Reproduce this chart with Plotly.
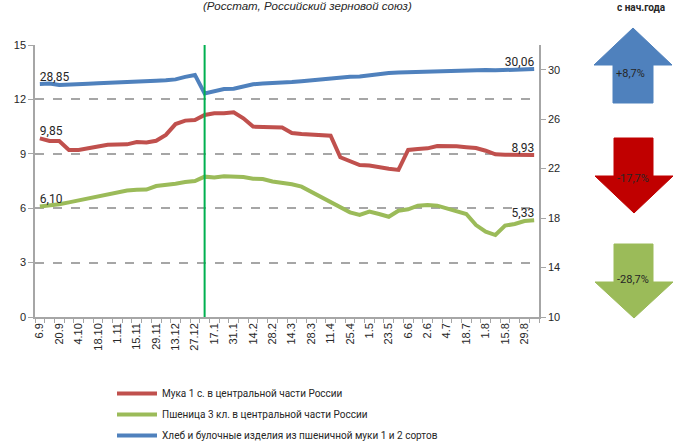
import plotly.graph_objects as go

# ---------------- data ----------------
dates = ["6.9", "13.9", "20.9", "27.9", "4.10", "11.10", "18.10", "25.10", "1.11", "8.11",
         "15.11", "22.11", "29.11", "6.12", "13.12", "20.12", "27.12", "10.1", "17.1", "24.1",
         "31.1", "7.2", "14.2", "21.2", "28.2", "7.3", "14.3", "21.3", "28.3", "4.4",
         "11.4", "18.4", "25.4", "28.4", "1.5", "16.5", "23.5", "30.5", "6.6", "13.6",
         "2.6", "27.6", "4.7", "11.7", "18.7", "25.7", "1.8", "8.8", "15.8", "22.8",
         "29.8", "5.9"]

flour = [9.85, 9.71, 9.71, 9.21, 9.21, 9.28, 9.40, 9.50, 9.52, 9.52,
         9.65, 9.62, 9.72, 10.04, 10.64, 10.83, 10.86, 11.14, 11.23, 11.23,
         11.29, 10.96, 10.50, 10.46, 10.46, 10.45, 10.15, 10.09, 10.07, 10.05,
         10.00, 8.81, 8.60, 8.38, 8.35, 8.29, 8.18, 8.11, 9.21, 9.26,
         9.30, 9.43, 9.43, 9.41, 9.36, 9.32, 9.17, 8.97, 8.95, 8.95,
         8.90, 8.93]

wheat = [6.10, 6.14, 6.22, 6.32, 6.43, 6.54, 6.67, 6.78, 6.90, 6.98,
         7.02, 7.03, 7.22, 7.26, 7.35, 7.44, 7.50, 7.74, 7.70, 7.76,
         7.75, 7.72, 7.63, 7.61, 7.47, 7.40, 7.32, 7.19, 6.91, 6.64,
         6.36, 6.05, 5.77, 5.63, 5.81, 5.68, 5.53, 5.86, 5.94, 6.14,
         6.18, 6.14, 5.99, 5.86, 5.68, 5.07, 4.71, 4.52, 5.04, 5.13,
         5.29, 5.33]

bread = [28.85, 28.88, 28.76, 28.82, 28.85, 28.87, 28.90, 28.92, 28.95, 29.00,
         29.03, 29.06, 29.10, 29.15, 29.22, 29.42, 29.58, 28.09, 28.30, 28.44,
         28.47, 28.65, 28.82, 28.88, 28.90, 28.95, 29.00, 29.06, 29.15, 29.22,
         29.33, 29.41, 29.44, 29.46, 29.57, 29.62, 29.73, 29.78, 29.81, 29.84,
         29.87, 29.89, 29.92, 29.92, 29.95, 29.97, 29.97, 29.95, 29.97, 30.00,
         30.03, 30.06]

names = ["Мука 1 с. в центральной части России",
         "Пшеница 3 кл. в центральной части России",
         "Хлеб и булочные изделия из пшеничной муки 1 и 2 сортов"]

changes = ["+8,7%", "-17,7%", "-28,7%"]
year_break = "10.1"

# ---------------- styling ----------------
RED, GREEN, BLUE = "#c0504d", "#9bbb59", "#4f81bd"
GRAY = "#a6a6a6"
NARROW = "Roboto, Liberation Sans"
ARIAL = "Liberation Sans, Arial"

W, H = 676, 446
L, R, T, B = 35, 137, 45, 129
PW, PH = W - L - R, H - T - B

def px(x):
    return (x - L) / PW

def py(y):
    return (H - B - y) / PH

xs = list(range(len(dates)))

def end_text(vals):
    t = [""] * len(vals)
    t[0] = f"{vals[0]:.2f}".replace(".", ",")
    t[-1] = f"{vals[-1]:.2f}".replace(".", ",")
    return t

def end_pos(n):
    p = ["top right"] * n
    p[-1] = "top left"
    return p

fig = go.Figure()
for k, (vals, col, name, ax) in enumerate([(flour, RED, names[0], "y"),
                                           (wheat, GREEN, names[1], "y"),
                                           (bread, BLUE, names[2], "y2")]):
    fig.add_trace(go.Scatter(
        x=xs, y=vals, name=name, yaxis=ax, mode="lines+text",
        legendgroup=f"g{k}",
        line=dict(color=col, width=4),
        text=end_text(vals), textposition=end_pos(len(vals)),
        textfont=dict(family=NARROW, size=12, color="#262626"),
        hoverinfo="skip"))

fig.update_layout(
    width=W, height=H,
    margin=dict(l=L, r=R, t=T, b=B, autoexpand=False),
    paper_bgcolor="white", plot_bgcolor="white",
    showlegend=True,
    legend=dict(x=px(112), y=py(379), xanchor="left", yanchor="top",
                orientation="v", font=dict(family=NARROW, size=10, color="#262626"),
                bgcolor="rgba(0,0,0,0)", itemwidth=40, tracegroupgap=2),
    xaxis=dict(range=[-0.5, len(dates) - 0.5], tickvals=xs[::2], ticktext=dates[::2],
               tickangle=-90, ticks="", showgrid=False, zeroline=False, automargin=False,
               showline=True, linecolor=GRAY, linewidth=1.5,
               tickfont=dict(family=ARIAL, size=11, color="#262626"),
               minor=dict(tickvals=[i - 0.5 for i in range(len(dates) + 1)],
                          ticks="outside", ticklen=4, tickcolor=GRAY, tickwidth=1,
                          showgrid=False)),
    yaxis=dict(range=[0, 15], dtick=3, tick0=0, showgrid=True, gridcolor=GRAY,
               griddash="dash", gridwidth=1.5, zeroline=False, automargin=False,
               showline=True, linecolor=GRAY, linewidth=1.5,
               ticks="outside", ticklen=5, tickcolor=GRAY,
               tickfont=dict(family=ARIAL, size=11, color="#262626")),
    yaxis2=dict(range=[10, 32], tickvals=[10, 14, 18, 22, 26, 30], overlaying="y",
                side="right", showgrid=False, zeroline=False, automargin=False,
                showline=True, linecolor=GRAY, linewidth=1.5,
                ticks="outside", ticklen=5, tickcolor=GRAY,
                tickfont=dict(family=ARIAL, size=11, color="#262626")),
)

# year-break marker
fig.add_shape(type="line", xref="x", yref="paper",
              x0=dates.index(year_break), x1=dates.index(year_break), y0=0, y1=1,
              line=dict(color="#00b050", width=2))

# title fragment and side caption
fig.add_annotation(text="<i>(Росстат, Российский зерновой союз)</i>", xref="paper", yref="paper",
                   x=px(307), y=py(-2), xanchor="center", yanchor="top", showarrow=False,
                   font=dict(family=ARIAL, size=11.5, color="#262626"))
fig.add_annotation(text="<b>с нач.года</b>", xref="paper", yref="paper",
                   x=px(641), y=py(0), xanchor="center", yanchor="top", showarrow=False,
                   font=dict(family=NARROW, size=10, color="#262626"))

# arrows
def path(points):
    return "M " + " L ".join(f"{px(a)},{py(b)}" for a, b in points) + " Z"

up = [(633, 28), (672, 65), (653, 65), (653, 103), (613, 103), (613, 65), (594, 65)]
def down(top, head, tip):
    return [(614, top), (653, top), (653, head), (673, head), (634, tip),
            (595, head), (614, head)]

arrows = [(up, BLUE, (630, 74), changes[0]),
          (down(138, 176, 213), "#c00000", (633, 178), changes[1]),
          (down(244, 282, 318), GREEN, (633, 279), changes[2])]
for pts, col, (tx, ty), txt in arrows:
    fig.add_shape(type="path", xref="paper", yref="paper", path=path(pts),
                  fillcolor=col, line=dict(color=col, width=1), layer="above")
    fig.add_annotation(text=txt, xref="paper", yref="paper", x=px(tx), y=py(ty),
                       xanchor="center", yanchor="middle", showarrow=False,
                       font=dict(family=NARROW, size=11, color="#262626"))

fig.write_html("out.html", config={"displayModeBar": False},
               post_script="document.body.style.margin='0';document.body.style.overflow='hidden';")
